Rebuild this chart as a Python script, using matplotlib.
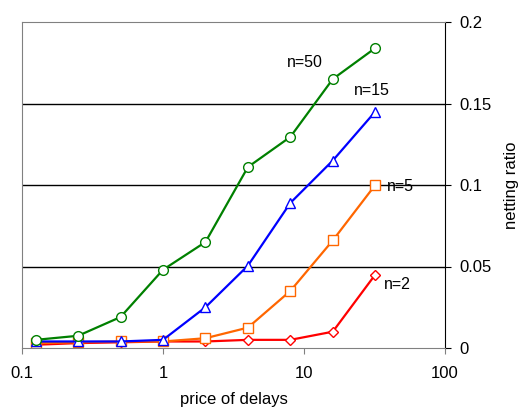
import numpy as np
import matplotlib
matplotlib.use("Agg")
from matplotlib import pyplot as plt

plt.rcParams['font.family'] = ['Liberation Sans', 'DejaVu Sans']

price = [0.125, 0.25, 0.5, 1, 2, 4, 8, 16, 32]
n50 = [0.005, 0.0075, 0.019, 0.048, 0.065, 0.111, 0.1295, 0.165, 0.184]
n15 = [0.004, 0.004, 0.004, 0.005, 0.025, 0.0505, 0.089, 0.115, 0.145]
n5 = [0.003, 0.0035, 0.004, 0.004, 0.006, 0.0125, 0.035, 0.066, 0.1]
n2 = [0.002, 0.003, 0.0035, 0.004, 0.004, 0.005, 0.005, 0.01, 0.045]

fig = plt.figure(figsize=(5.19, 4.09), dpi=100)
ax = fig.add_axes([22/519, 1-348/409, (445-22)/519, (348-22)/409])

mk = dict(markersize=7, markerfacecolor='white', markeredgewidth=1, lw=1.6)
ax.plot(price, n2, color='#ff0000', marker='D', **dict(mk, markersize=5.5))
ax.plot(price, n5, color='#ff6600', marker='s', **mk)
ax.plot(price, n15, color='#0000ff', marker='^', **mk)
ax.plot(price, n50, color='#008000', marker='o', **mk)

ax.set_xscale('log')
ax.set_xlim(0.1, 100)
ax.set_ylim(0, 0.2)
ax.set_xticks([0.1, 1, 10, 100])
ax.set_xticklabels(['0.1', '1', '10', '100'])
ax.minorticks_off()
ax.yaxis.tick_right()
ax.yaxis.set_label_position('right')
ax.set_yticks([0, 0.05, 0.1, 0.15, 0.2])
ax.set_yticklabels(['0', '0.05', '0.1', '0.15', '0.2'])
ax.tick_params(labelsize=12, length=4, color='black', pad=6)
ax.tick_params(axis='x', color='#808080', pad=9)

for y in [0.05, 0.1, 0.15]:
    ax.axhline(y, color='black', lw=1, zorder=0)

for s in ['left', 'top', 'bottom']:
    ax.spines[s].set_color('#808080')
ax.spines['right'].set_color('black')

ax.set_xlabel('price of delays', fontsize=12, labelpad=8)
ax.set_ylabel('netting ratio', fontsize=12, labelpad=9)

ax.text(10.2, 0.175, 'n=50', fontsize=11.5, ha='center', va='center')
ax.text(22.6, 0.158, 'n=15', fontsize=11.5, ha='left', va='center')
ax.text(39, 0.099, 'n=5', fontsize=11.5, ha='left', va='center')
ax.text(37, 0.0387, 'n=2', fontsize=11.5, ha='left', va='center')

fig.savefig('out.png', dpi=100)
